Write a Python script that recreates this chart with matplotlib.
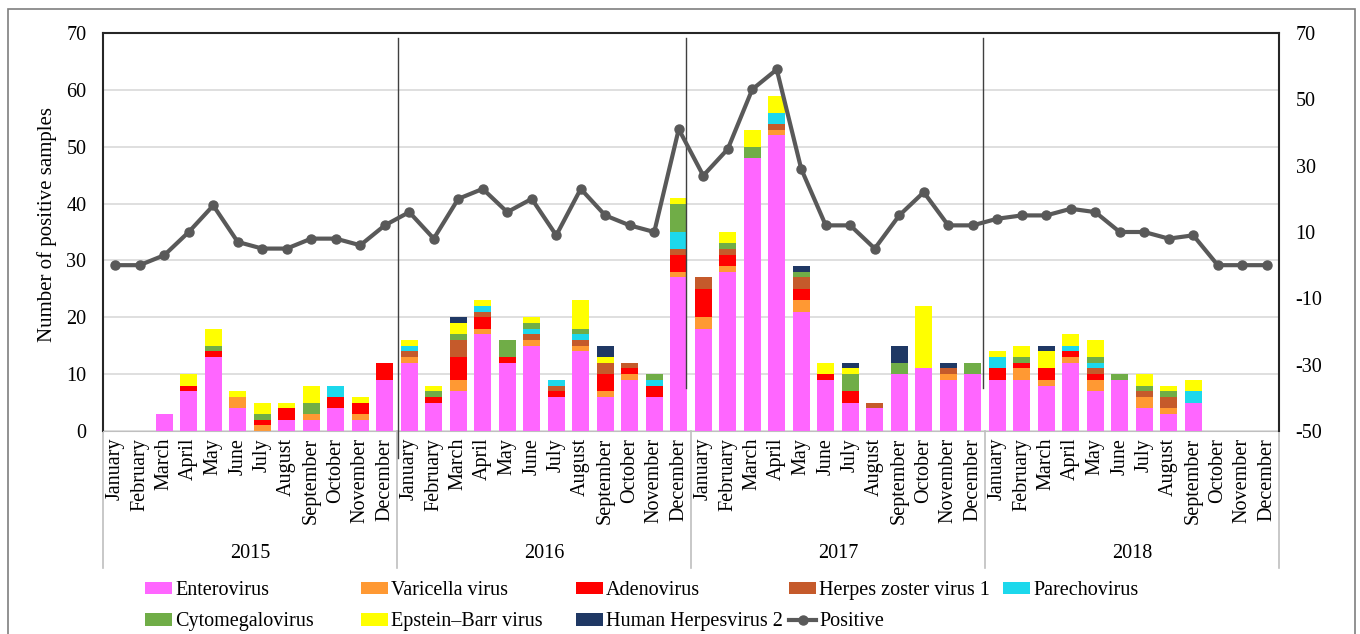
import matplotlib

matplotlib.use("Agg")
import matplotlib.pyplot as plt
import numpy as np
from matplotlib.patches import Rectangle

plt.rcParams["font.family"] = ["Liberation Serif", "DejaVu Serif"]
plt.rcParams["axes.unicode_minus"] = False

MONTHS = [
    "January", "February", "March", "April", "May", "June",
    "July", "August", "September", "October", "November", "December",
]
YEARS = ["2015", "2016", "2017", "2018"]

enterovirus = [
    0, 0, 3, 7, 13, 4, 0, 2, 2, 4, 2, 9,
    12, 5, 7, 17, 12, 15, 6, 14, 6, 9, 6, 27,
    18, 28, 48, 52, 21, 9, 5, 4, 10, 11, 9, 10,
    9, 9, 8, 12, 7, 9, 4, 3, 5, 0, 0, 0,
]
varicella = [
    0, 0, 0, 0, 0, 2, 1, 0, 1, 0, 1, 0,
    1, 0, 2, 1, 0, 1, 0, 1, 1, 1, 0, 1,
    2, 1, 0, 1, 2, 0, 0, 0, 0, 0, 1, 0,
    0, 2, 1, 1, 2, 0, 2, 1, 0, 0, 0, 0,
]
adenovirus = [
    0, 0, 0, 1, 1, 0, 1, 2, 0, 2, 2, 3,
    0, 1, 4, 2, 1, 0, 1, 0, 3, 1, 2, 3,
    5, 2, 0, 0, 2, 1, 2, 0, 0, 0, 0, 0,
    2, 1, 2, 1, 1, 0, 0, 0, 0, 0, 0, 0,
]
herpes_zoster = [
    0, 0, 0, 0, 0, 0, 0, 0, 0, 0, 0, 0,
    1, 0, 3, 1, 0, 1, 1, 1, 2, 1, 0, 1,
    2, 1, 0, 1, 2, 0, 0, 1, 0, 0, 1, 0,
    0, 0, 0, 0, 1, 0, 1, 2, 0, 0, 0, 0,
]
parechovirus = [
    0, 0, 0, 0, 0, 0, 0, 0, 0, 2, 0, 0,
    1, 0, 0, 1, 0, 1, 1, 1, 0, 0, 1, 3,
    0, 0, 0, 2, 0, 0, 0, 0, 0, 0, 0, 0,
    2, 0, 0, 1, 1, 0, 0, 0, 2, 0, 0, 0,
]
cytomegalovirus = [
    0, 0, 0, 0, 1, 0, 1, 0, 2, 0, 0, 0,
    0, 1, 1, 0, 3, 1, 0, 1, 0, 0, 1, 5,
    0, 1, 2, 0, 1, 0, 3, 0, 2, 0, 0, 2,
    0, 1, 0, 0, 1, 1, 1, 1, 0, 0, 0, 0,
]
epstein_barr = [
    0, 0, 0, 2, 3, 1, 2, 1, 3, 0, 1, 0,
    1, 1, 2, 1, 0, 1, 0, 5, 1, 0, 0, 1,
    0, 2, 3, 3, 0, 2, 1, 0, 0, 11, 0, 0,
    1, 2, 3, 2, 3, 0, 2, 1, 2, 0, 0, 0,
]
herpesvirus_2 = [
    0, 0, 0, 0, 0, 0, 0, 0, 0, 0, 0, 0,
    0, 0, 1, 0, 0, 0, 0, 0, 2, 0, 0, 0,
    0, 0, 0, 0, 1, 0, 1, 0, 3, 0, 1, 0,
    0, 0, 1, 0, 0, 0, 0, 0, 0, 0, 0, 0,
]
positive = [
    0, 0, 3, 10, 18, 7, 5, 5, 8, 8, 6, 12,
    16, 8, 20, 23, 16, 20, 9, 23, 15, 12, 10, 41,
    27, 35, 53, 59, 29, 12, 12, 5, 15, 22, 12, 12,
    14, 15, 15, 17, 16, 10, 10, 8, 9, 0, 0, 0,
]

series = [
    ("Enterovirus", enterovirus, "#FF66FF"),
    ("Varicella virus", varicella, "#FF9933"),
    ("Adenovirus", adenovirus, "#FF0000"),
    ("Herpes zoster virus 1", herpes_zoster, "#C55A2B"),
    ("Parechovirus", parechovirus, "#1CD8EC"),
    ("Cytomegalovirus", cytomegalovirus, "#70AD47"),
    ("Epstein\u2013Barr virus", epstein_barr, "#FFFF00"),
    ("Human Herpesvirus 2", herpesvirus_2, "#1F3864"),
]

FONT = 14.5
x = np.arange(len(positive))

fig = plt.figure(figsize=(13.6, 6.34), dpi=100)
ax = fig.add_axes([103 / 1360, 1 - 431 / 634, 1176 / 1360, 398 / 634])

handles = {}
bottom = np.zeros(len(x))
for name, values, color in series:
    values = np.array(values, dtype=float)
    bars = ax.bar(x, values, width=0.7, bottom=bottom, color=color, label=name, zorder=2)
    handles[name] = bars
    bottom += values

ax.set_xlim(-0.5, len(x) - 0.5)
ax.set_ylim(0, 70)
ax.set_yticks(range(0, 71, 10))
ax.yaxis.grid(True, color="#D9D9D9", linewidth=1.2)
ax.set_axisbelow(True)
ax.tick_params(axis="y", length=0, pad=12, labelsize=FONT)
ax.set_ylabel("Number of positive samples", fontsize=FONT + 0.5)
ax.yaxis.set_label_coords(-0.039, 0.52)

ax.set_xticks(x)
ax.set_xticklabels(MONTHS * len(YEARS), rotation=90, fontsize=FONT)
ax.tick_params(axis="x", length=0, pad=5)

for side in ["left", "top"]:
    ax.spines[side].set_color("#262626")
    ax.spines[side].set_linewidth(1.5)
ax.spines["bottom"].set_color("#BFBFBF")
ax.spines["right"].set_visible(False)

# year groups under the month labels
trans = ax.get_xaxis_transform()
for edge in [-0.5, 11.5, 23.5, 35.5, 47.5]:
    ax.plot([edge, edge], [0, -0.343], transform=trans, color="#BFBFBF",
            linewidth=1.2, clip_on=False)
for i, year in enumerate(YEARS):
    ax.text(i * 12 + 5.5, -0.307, year, transform=trans, ha="center",
            va="center", fontsize=FONT)

# year dividers drawn across the plot
for edge, low in [(11.55, -4.8), (23.3, 7.6), (35.4, 7.6)]:
    ax.plot([edge, edge], [69.2, low], color="#404040", linewidth=1,
            clip_on=False, zorder=3)

ax2 = ax.twinx()
line, = ax2.plot(x, positive, color="#595959", linewidth=3, marker="o",
                 markersize=6.5, label="Positive", zorder=4)
ax2.set_ylim(-50, 70)
ax2.set_yticks(range(-50, 71, 20))
ax2.tick_params(axis="y", length=0, pad=12, labelsize=FONT)
for side in ["left", "top", "bottom"]:
    ax2.spines[side].set_visible(False)
ax2.spines["right"].set_color("#262626")
ax2.spines["right"].set_linewidth(1.5)

# legend, laid out column by column
columns = [
    (145, ["Enterovirus", "Cytomegalovirus"]),
    (361, ["Varicella virus", "Epstein\u2013Barr virus"]),
    (576, ["Adenovirus", "Human Herpesvirus 2"]),
    (789, ["Herpes zoster virus 1", "Positive"]),
    (1003, ["Parechovirus"]),
]
for left, names in columns:
    col_handles = [line if n == "Positive" else handles[n] for n in names]
    fig.legend(col_handles, names, loc="upper left",
               bbox_to_anchor=(left / 1360, 1 - 581 / 634), frameon=False,
               fontsize=FONT, handlelength=1.35, handleheight=0.6,
               handletextpad=0.15, labelspacing=0.62, borderpad=0,
               borderaxespad=0)

fig.patches.append(Rectangle((8 / 1360, -0.01), 1347 / 1360, 1 - 9 / 634 + 0.01,
                             transform=fig.transFigure, fill=False,
                             edgecolor="#7F7F7F", linewidth=1.2))

fig.savefig("out.png", dpi=100)
